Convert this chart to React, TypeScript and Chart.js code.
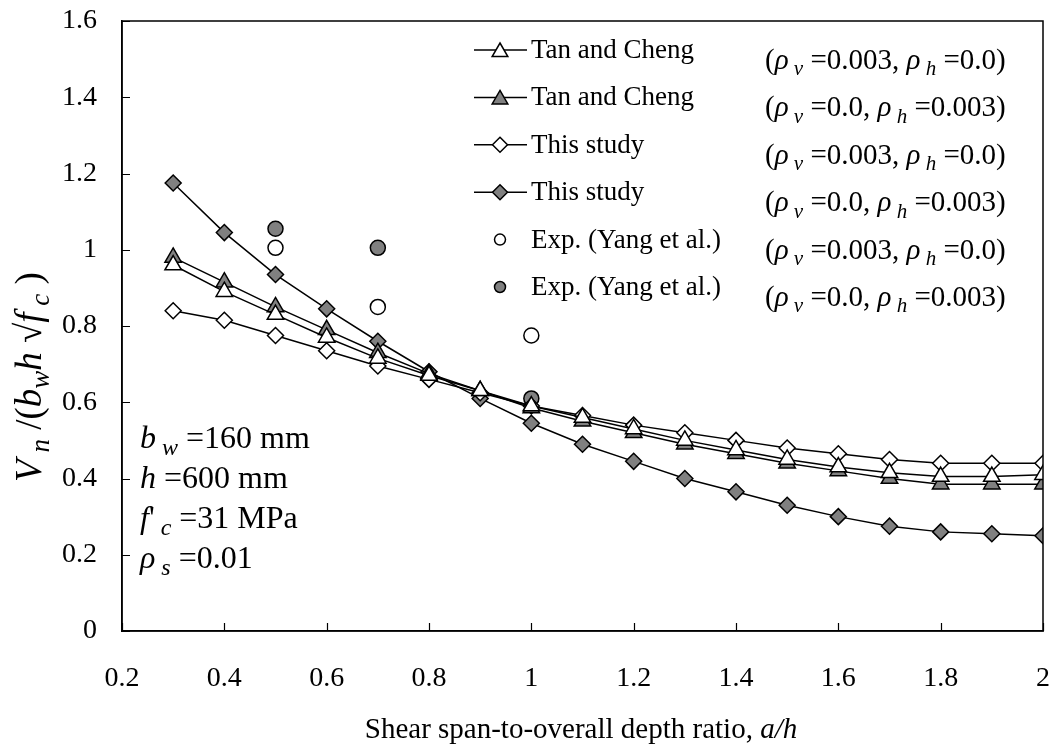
import React, { useEffect, useRef } from "react";
import { Chart, registerables } from "chart.js";

Chart.register(...registerables);

const xs = [0.3, 0.4, 0.5, 0.6, 0.7, 0.8, 0.9, 1.0, 1.1, 1.2, 1.3, 1.4, 1.5, 1.6, 1.7, 1.8, 1.9, 2.0];
const tanV = [0.96, 0.89, 0.83, 0.77, 0.715, 0.67, 0.63, 0.59, 0.56, 0.53, 0.5, 0.475, 0.45, 0.43, 0.415, 0.405, 0.405, 0.41];
const tanH = [0.98, 0.915, 0.85, 0.79, 0.73, 0.675, 0.63, 0.585, 0.55, 0.52, 0.49, 0.465, 0.44, 0.42, 0.4, 0.385, 0.385, 0.385];
const studyV = [0.84, 0.815, 0.775, 0.735, 0.695, 0.66, 0.625, 0.59, 0.565, 0.54, 0.52, 0.5, 0.48, 0.465, 0.45, 0.44, 0.44, 0.44];
const studyH = [1.175, 1.045, 0.935, 0.845, 0.76, 0.68, 0.61, 0.545, 0.49, 0.445, 0.4, 0.365, 0.33, 0.3, 0.275, 0.26, 0.255, 0.25];
const expX = [0.5, 0.7, 1.0];
const expV = [1.005, 0.85, 0.775];
const expH = [1.055, 1.005, 0.61];
const xTicks = [0.2, 0.4, 0.6, 0.8, 1, 1.2, 1.4, 1.6, 1.8, 2];
const yTicks = [0, 0.2, 0.4, 0.6, 0.8, 1, 1.2, 1.4, 1.6];

const FONT = '"Liberation Serif", "Times New Roman", serif';
const GRAY = "#808080";

type Seg = { t: string; i?: boolean; s?: boolean };

function segFont(seg: Seg, size: number) {
  const sz = seg.s ? Math.round(size * 0.74) : size;
  return `${seg.i ? "italic " : ""}${sz}px ${FONT}`;
}

function richWidth(ctx: CanvasRenderingContext2D, segs: Seg[], size: number) {
  let w = 0;
  for (const s of segs) {
    ctx.font = segFont(s, size);
    w += ctx.measureText(s.t).width;
  }
  return w;
}

function drawRich(ctx: CanvasRenderingContext2D, x: number, y: number, segs: Seg[], size: number, align: "left" | "center" = "left") {
  let cx = align === "center" ? x - richWidth(ctx, segs, size) / 2 : x;
  ctx.textAlign = "left";
  ctx.textBaseline = "alphabetic";
  ctx.fillStyle = "#000";
  for (const s of segs) {
    ctx.font = segFont(s, size);
    ctx.fillText(s.t, cx, s.s ? y + size * 0.22 : y);
    cx += ctx.measureText(s.t).width;
  }
}

function marker(ctx: CanvasRenderingContext2D, style: string, x: number, y: number, r: number, fill: string) {
  ctx.beginPath();
  if (style === "triangle") {
    ctx.moveTo(x, y - r);
    ctx.lineTo(x + r * 0.87, y + r * 0.5);
    ctx.lineTo(x - r * 0.87, y + r * 0.5);
    ctx.closePath();
  } else if (style === "diamond") {
    ctx.moveTo(x, y - r);
    ctx.lineTo(x + r, y);
    ctx.lineTo(x, y + r);
    ctx.lineTo(x - r, y);
    ctx.closePath();
  } else {
    ctx.arc(x, y, r, 0, Math.PI * 2);
  }
  ctx.fillStyle = fill;
  ctx.fill();
  ctx.strokeStyle = "#000";
  ctx.lineWidth = 1.5;
  ctx.stroke();
}

const rhoV003: Seg[] = [{ t: "(" }, { t: "ρ", i: true }, { t: " v", i: true, s: true }, { t: " =0.003, " }, { t: "ρ", i: true }, { t: " h", i: true, s: true }, { t: " =0.0)" }];
const rhoH003: Seg[] = [{ t: "(" }, { t: "ρ", i: true }, { t: " v", i: true, s: true }, { t: " =0.0, " }, { t: "ρ", i: true }, { t: " h", i: true, s: true }, { t: " =0.003)" }];

const legendRows = [
  { label: "Tan and Cheng", style: "triangle", fill: "#fff", line: true, right: rhoV003 },
  { label: "Tan and Cheng", style: "triangle", fill: GRAY, line: true, right: rhoH003 },
  { label: "This study", style: "diamond", fill: "#fff", line: true, right: rhoV003 },
  { label: "This study", style: "diamond", fill: GRAY, line: true, right: rhoH003 },
  { label: "Exp. (Yang et al.)", style: "circle", fill: "#fff", line: false, right: rhoV003 },
  { label: "Exp. (Yang et al.)", style: "circle", fill: GRAY, line: false, right: rhoH003 },
];

const decorPlugin = {
  id: "decor",
  afterDraw(chart: any) {
    const ctx: CanvasRenderingContext2D = chart.ctx;
    const { left, right, top, bottom } = chart.chartArea;
    const xs_ = chart.scales.x;
    const ys_ = chart.scales.y;
    ctx.save();
    ctx.strokeStyle = "#000";
    ctx.lineWidth = 1.5;
    ctx.strokeRect(left, top, right - left, bottom - top);
    ctx.beginPath();
    for (const v of xTicks) {
      const px = Math.round(xs_.getPixelForValue(v)) + 0.5;
      ctx.moveTo(px, bottom);
      ctx.lineTo(px, bottom - 8);
    }
    for (const v of yTicks) {
      const py = Math.round(ys_.getPixelForValue(v)) + 0.5;
      ctx.moveTo(left, py);
      ctx.lineTo(left + 8, py);
    }
    ctx.lineWidth = 1.2;
    ctx.stroke();

    // legend
    legendRows.forEach((row, k) => {
      const yc = 50 + k * 47.4;
      if (row.line) {
        ctx.beginPath();
        ctx.moveTo(474, yc);
        ctx.lineTo(527, yc);
        ctx.strokeStyle = "#000";
        ctx.lineWidth = 1.5;
        ctx.stroke();
      }
      const r = row.style === "circle" ? 5.5 : row.style === "triangle" ? 9 : 7.5;
      marker(ctx, row.style, 500, yc + (row.style === "triangle" ? 2 : 0), r, row.fill);
      drawRich(ctx, 531, yc + 8, [{ t: row.label }], 27);
      drawRich(ctx, 765, yc + 19, row.right, 29);
    });

    // annotations
    drawRich(ctx, 140, 448, [{ t: "b", i: true }, { t: " w", i: true, s: true }, { t: " =160 mm" }], 32);
    drawRich(ctx, 140, 488, [{ t: "h", i: true }, { t: " =600 mm" }], 32);
    drawRich(ctx, 140, 528, [{ t: "f", i: true }, { t: "'" }, { t: " c", i: true, s: true }, { t: " =31 MPa" }], 32);
    drawRich(ctx, 140, 568, [{ t: "ρ", i: true }, { t: " s", i: true, s: true }, { t: " =0.01" }], 32);

    // x title
    drawRich(ctx, 581, 738, [{ t: "Shear span-to-overall depth ratio, " }, { t: "a/h", i: true }], 29, "center");

    // y title
    ctx.save();
    ctx.translate(41, 377);
    ctx.rotate(-Math.PI / 2);
    drawRich(ctx, 0, 0, [
      { t: "V", i: true }, { t: " n", i: true, s: true }, { t: " /(" },
      { t: "b", i: true }, { t: "w", i: true, s: true }, { t: "h", i: true },
      { t: " √" }, { t: "f", i: true }, { t: " c", i: true, s: true }, { t: " )" },
    ], 37, "center");
    ctx.restore();
    ctx.restore();
  },
};

function pts(ys: number[], xv: number[] = xs) {
  return ys.map((y, i) => ({ x: xv[i], y }));
}

export default function App() {
  const ref = useRef<HTMLCanvasElement>(null);
  useEffect(() => {
    if (!ref.current) return;
    const lineDs = (data: number[], style: string, fill: string, r: number) => ({
      data: pts(data),
      showLine: true,
      borderColor: "#000",
      borderWidth: 1.5,
      pointStyle: style,
      pointRadius: r,
      pointBackgroundColor: fill,
      pointBorderColor: "#000",
      pointBorderWidth: 1.5,
      tension: 0,
    });
    const chart = new Chart(ref.current, {
      type: "scatter",
      data: {
        datasets: [
          { ...lineDs(tanV, "triangle", "#fff", 9.5) },
          { ...lineDs(tanH, "triangle", GRAY, 9.5) },
          { ...lineDs(studyV, "rectRot", "#fff", 8) },
          { ...lineDs(studyH, "rectRot", GRAY, 8) },
          {
            data: pts(expV, expX), showLine: false, pointStyle: "circle", pointRadius: 7.5,
            pointBackgroundColor: "#fff", pointBorderColor: "#000", pointBorderWidth: 1.5,
          },
          {
            data: pts(expH, expX), showLine: false, pointStyle: "circle", pointRadius: 7.5,
            pointBackgroundColor: GRAY, pointBorderColor: "#000", pointBorderWidth: 1.5,
          },
        ] as any,
      },
      options: {
        responsive: false,
        animation: false,
        layout: { padding: { left: 0, top: 21, right: 10, bottom: 0 } },
        plugins: { legend: { display: false }, tooltip: { enabled: false } },
        scales: {
          x: {
            type: "linear",
            min: 0.2,
            max: 2,
            afterBuildTicks: (s: any) => { s.ticks = xTicks.map((v) => ({ value: v })); },
            afterFit: (s: any) => { s.height = 120; s.paddingLeft = 0; s.paddingRight = 0; },
            ticks: {
              padding: 31,
              color: "#000",
              font: { family: FONT, size: 28 },
              callback: (v: any) => String(Number(Number(v).toFixed(1))),
              maxRotation: 0,
              autoSkip: false,
            },
            grid: { drawOnChartArea: false, drawTicks: false },
            border: { display: true, color: "#000", width: 1.5 },
          },
          y: {
            type: "linear",
            min: 0,
            max: 1.6,
            afterBuildTicks: (s: any) => { s.ticks = yTicks.map((v) => ({ value: v })); },
            afterFit: (s: any) => { s.width = 122; s.paddingTop = 0; s.paddingBottom = 0; },
            ticks: {
              padding: 25,
              color: "#000",
              font: { family: FONT, size: 28 },
              callback: (v: any) => String(Number(Number(v).toFixed(1))),
              autoSkip: false,
            },
            grid: { drawOnChartArea: false, drawTicks: false },
            border: { display: true, color: "#000", width: 1.5 },
          },
        },
      } as any,
      plugins: [decorPlugin],
    });
    return () => chart.destroy();
  }, []);
  return (
    <div style={{ position: "absolute", left: 0, top: 0, width: 1054, height: 751, background: "#fff" }}>
      <canvas ref={ref} width={1054} height={751} style={{ width: 1054, height: 751 }} />
    </div>
  );
}
